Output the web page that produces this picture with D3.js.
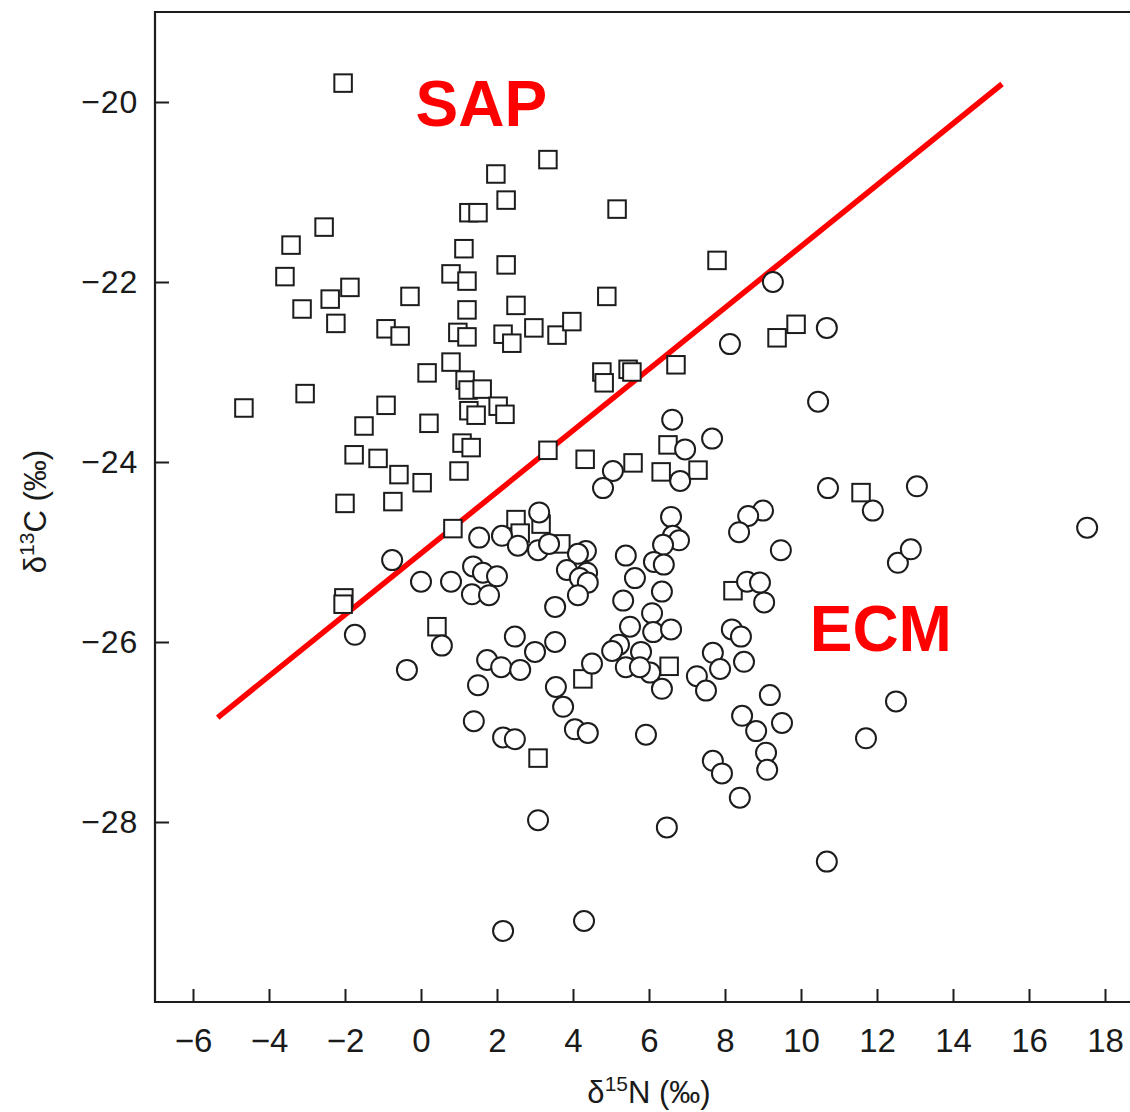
<!DOCTYPE html>
<html>
<head>
<meta charset="utf-8">
<script src="https://cdn.jsdelivr.net/npm/d3@7"></script>
<style>
  body { margin: 0; background: #fff; }
  svg { display: block; }
</style>
</head>
<body>
<svg id="chart" width="1130" height="1112"></svg>
<script>
// δ15N / δ13C (‰) of saprotrophic (SAP, squares) and ectomycorrhizal (ECM, circles) fungi
const sapN = [-2.05, 3.34, 1.97, 2.24, 1.26, 1.50, -2.55, -3.42, 1.13, 2.24,
  -3.58, 0.79, 1.21, -1.87, -2.39, -0.29, -3.13, 2.50, 1.21, -2.24,
  -0.92, -0.55, 0.97, 1.21, 2.16, 2.39, 2.97, 3.58, 3.97, 4.89,
  7.79, 0.16, 0.79, 1.16, 1.24, 1.61, 4.76, 4.82, 5.45, 5.55,
  6.71, 9.37, 9.87, -4.66, -3.05, -0.92, -1.50, 0.21, 1.26, 1.45,
  2.03, 2.21, -1.76, -1.13, -0.58, 0.03, 1.08, 1.32, 1.00, -2.00,
  -0.74, 3.34, 4.32, 0.84, 2.50, 3.16, 2.61, 3.68, -2.03, -2.05,
  0.42, 5.58, 6.50, 6.32, 7.29, 11.58, 8.21, 3.08, 4.26, 6.53,
  5.16];
const sapC = [-19.79, -20.64, -20.80, -21.09, -21.23, -21.23, -21.39, -21.59, -21.63, -21.81,
  -21.94, -21.91, -21.99, -22.06, -22.19, -22.16, -22.30, -22.26, -22.31, -22.46,
  -22.52, -22.60, -22.56, -22.61, -22.58, -22.68, -22.51, -22.59, -22.44, -22.16,
  -21.76, -23.01, -22.89, -23.09, -23.20, -23.19, -23.00, -23.12, -22.97, -23.00,
  -22.92, -22.62, -22.47, -23.40, -23.24, -23.37, -23.60, -23.57, -23.43, -23.48,
  -23.38, -23.47, -23.92, -23.96, -24.14, -24.23, -23.79, -23.84, -24.10, -24.46,
  -24.44, -23.87, -23.97, -24.74, -24.64, -24.69, -24.79, -24.91, -25.51, -25.58,
  -25.83, -24.01, -23.81, -24.11, -24.09, -24.34, -25.43, -27.29, -26.41, -26.27,
  -21.19];

const ecmN = [9.26, 10.68, 8.13, 10.45, 7.66, 6.95, 6.61, 5.05, 4.79, 6.82,
  10.71, 13.05, 11.89, 17.53, 6.58, 6.63, 6.79, 6.37, 6.13, 6.39,
  5.39, 5.63, 6.34, 5.32, 6.08, 5.50, 6.11, 6.58, 5.79, 6.03,
  6.34, 5.92, 9.00, 8.61, 8.37, 9.47, 8.58, 8.92, 9.03, 8.18,
  8.42, 7.68, 7.87, 8.50, 7.26, 7.50, 9.18, 8.45, 9.50, 8.82,
  9.08, 7.68, 7.92, 9.11, 8.39, 12.50, 11.71, 12.55, 12.89, 6.47,
  10.68, 4.29, 2.16, 3.08, 3.11, 1.53, 2.13, 2.55, 3.08, 3.37,
  4.34, 4.13, 3.84, 4.37, 4.18, 4.39, 4.13, 1.37, 1.63, 2.00,
  1.34, 1.79, 0.79, 0.00, -0.76, -1.74, -0.37, 0.55, 3.53, 2.47,
  3.53, 3.00, 1.74, 2.11, 2.61, 1.50, 4.50, 3.55, 3.74, 1.39,
  2.16, 2.47, 4.05, 4.39, 5.21, 5.03, 5.39, 5.76];
const ecmC = [-22.00, -22.51, -22.69, -23.33, -23.74, -23.86, -23.53, -24.10, -24.29, -24.21,
  -24.29, -24.27, -24.54, -24.73, -24.61, -24.82, -24.87, -24.92, -25.11, -25.14,
  -25.04, -25.29, -25.44, -25.54, -25.68, -25.83, -25.89, -25.86, -26.11, -26.34,
  -26.52, -27.03, -24.54, -24.60, -24.78, -24.98, -25.33, -25.34, -25.56, -25.86,
  -25.94, -26.12, -26.30, -26.22, -26.38, -26.54, -26.59, -26.82, -26.90, -26.99,
  -27.23, -27.32, -27.46, -27.42, -27.73, -26.66, -27.07, -25.12, -24.97, -28.06,
  -28.44, -29.10, -29.21, -27.98, -24.56, -24.84, -24.82, -24.93, -24.98, -24.91,
  -24.99, -25.02, -25.20, -25.23, -25.29, -25.34, -25.48, -25.16, -25.23, -25.27,
  -25.47, -25.48, -25.33, -25.33, -25.09, -25.92, -26.31, -26.04, -25.61, -25.94,
  -26.00, -26.11, -26.20, -26.28, -26.31, -26.48, -26.24, -26.50, -26.72, -26.88,
  -27.06, -27.08, -26.97, -27.01, -26.03, -26.10, -26.28, -26.28];

// Discriminating line between the two groups (end points)
const boundaryN = [-5.35, 15.29];
const boundaryC = [-26.84, -19.80];

const xTicks = [-6, -4, -2, 0, 2, 4, 6, 8, 10, 12, 14, 16, 18];
const yTicks = [-20, -22, -24, -26, -28];

const groups = ["SAP", "ECM"];

// ---- layout ----
const marginLeft = 155, marginTop = 12;
const pxPerN = 38, pxPerC = 90;
const xDomain = [-7, 18.7], yDomain = [-30, -19];

const x = d3.scaleLinear().domain(xDomain)
  .range([marginLeft, marginLeft + (xDomain[1] - xDomain[0]) * pxPerN]);
const y = d3.scaleLinear().domain(yDomain)
  .range([marginTop + (yDomain[1] - yDomain[0]) * pxPerC, marginTop]);

const svg = d3.select("#chart");
const ink = "#1c1c1c";
const font = "'Liberation Sans', Arial, Helvetica, sans-serif";

// plot frame (left, top and bottom edges)
const x0 = x.range()[0], x1 = x.range()[1];
const yB = y.range()[0], yT = y.range()[1];
svg.append("path")
  .attr("d", `M${x1},${yT}H${x0}V${yB}H${x1}`)
  .attr("fill", "none").attr("stroke", ink).attr("stroke-width", 2.2);

// axes with inward ticks
const yAxis = svg.append("g")
  .attr("transform", `translate(${x0},0)`)
  .call(d3.axisLeft(y).tickValues(yTicks).tickSize(-14).tickPadding(17));
const xAxis = svg.append("g")
  .attr("transform", `translate(0,${yB})`)
  .call(d3.axisBottom(x).tickValues(xTicks).tickSize(-13).tickPadding(27));

[yAxis, xAxis].forEach(g => {
  g.select(".domain").remove();
  g.selectAll(".tick line").attr("stroke", ink).attr("stroke-width", 2);
  g.selectAll(".tick text").attr("fill", "#1a1a1a")
    .style("font-family", font);
});
yAxis.selectAll(".tick text").style("font-size", "32px").attr("letter-spacing", 0.8);
xAxis.selectAll(".tick text").style("font-size", "33px");

// axis titles
const xt = svg.append("text")
  .attr("x", x(6)).attr("y", 1103)
  .attr("text-anchor", "middle")
  .style("font-family", font).style("font-size", "31px").attr("fill", "#1a1a1a");
xt.append("tspan").text("δ");
xt.append("tspan").attr("dy", -12).style("font-size", "21px").text("15");
xt.append("tspan").attr("dy", 12).text("N (‰)");

const yt = svg.append("text")
  .attr("transform", `translate(46,${y(-24.55)}) rotate(-90)`)
  .attr("text-anchor", "middle")
  .style("font-family", font).style("font-size", "31px").attr("fill", "#1a1a1a");
yt.append("tspan").text("δ");
yt.append("tspan").attr("dy", -12).style("font-size", "21px").text("13");
yt.append("tspan").attr("dy", 12).text("C (‰)");

// boundary line
svg.append("line")
  .attr("x1", x(boundaryN[0])).attr("y1", y(boundaryC[0]))
  .attr("x2", x(boundaryN[1])).attr("y2", y(boundaryC[1]))
  .attr("stroke", "#ff0000").attr("stroke-width", 5.5);

// SAP squares
const side = 17.5;
svg.append("g").selectAll("rect")
  .data(d3.zip(sapN, sapC))
  .join("rect")
  .attr("x", d => x(d[0]) - side / 2)
  .attr("y", d => y(d[1]) - side / 2)
  .attr("width", side).attr("height", side)
  .attr("fill", "#fff").attr("stroke", ink).attr("stroke-width", 2);

// ECM circles
svg.append("g").selectAll("circle")
  .data(d3.zip(ecmN, ecmC))
  .join("circle")
  .attr("cx", d => x(d[0]))
  .attr("cy", d => y(d[1]))
  .attr("r", 10)
  .attr("fill", "#fff").attr("stroke", ink).attr("stroke-width", 2);

// group labels
svg.append("text")
  .attr("x", x(1.59)).attr("y", y(-20.27))
  .attr("text-anchor", "middle")
  .style("font-family", font).style("font-weight", "bold").style("font-size", "64px")
  .attr("fill", "#ff0000").text(groups[0]);
svg.append("text")
  .attr("x", x(12.1)).attr("y", y(-26.1))
  .attr("text-anchor", "middle")
  .style("font-family", font).style("font-weight", "bold").style("font-size", "64px")
  .attr("fill", "#ff0000").text(groups[1]);
</script>
</body>
</html>
